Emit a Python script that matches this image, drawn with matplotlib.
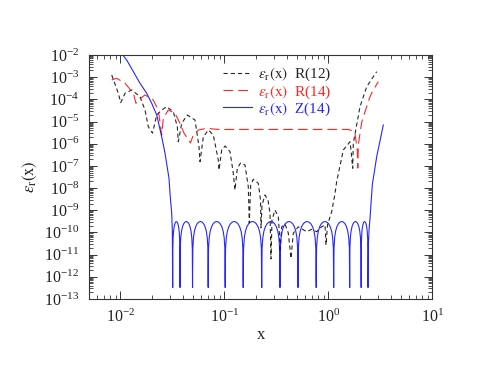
import numpy as np
import matplotlib
matplotlib.use('Agg')
import matplotlib.pyplot as plt
from matplotlib.ticker import LogLocator, NullFormatter, LogFormatterSciNotation
from matplotlib.lines import Line2D

plt.rcParams['font.family'] = ['Liberation Serif', 'DejaVu Serif']
plt.rcParams['mathtext.fontset'] = 'stix'
plt.rcParams['lines.scale_dashes'] = False

# ---------------- data ----------------
r12_x = [0.00827, 0.00957, 0.01009, 0.01110, 0.01287, 0.01547, 0.01728, 0.01859, 0.02040, 0.02239,
         0.02500, 0.02793, 0.03233, 0.03533, 0.03612, 0.03895, 0.04407, 0.05228, 0.05711, 0.05839,
         0.06283, 0.07018, 0.07837, 0.08756, 0.08892, 0.09441, 0.1016, 0.1134, 0.1221, 0.1267,
         0.1334, 0.1438, 0.1581, 0.1701, 0.1739, 0.1794, 0.1900, 0.2123, 0.2229, 0.2254,
         0.2304, 0.2462, 0.2631, 0.2750, 0.2812, 0.2874, 0.3072, 0.3305, 0.3394, 0.3432,
         0.3563, 0.3834, 0.4124, 0.4378, 0.4607, 0.5147, 0.5586, 0.6197, 0.6925, 0.7736,
         0.8640, 0.9296, 0.9504, 0.9824, 1.078, 1.160, 1.204, 1.394, 1.617, 1.653,
         1.717, 1.739, 2.018, 2.340, 2.920]
r12_y = [1.25e-3, 1.88e-4, 7.1e-5, 1.88e-4, 2.64e-4, 1.32e-4, 3.3e-5, 5.85e-6, 3.0e-6, 1.97e-5,
         3.3e-5, 4.67e-5, 2.78e-5, 5.85e-6, 1.23e-6, 8.3e-6, 1.97e-5, 1.17e-5, 7.3e-7, 1.55e-7,
         2.0e-6, 4.16e-6, 2.47e-6, 1.85e-7, 6.5e-8, 5.2e-7, 7.9e-7, 4.4e-7, 4.6e-8, 8.2e-9,
         7.8e-8, 1.39e-7, 1.1e-7, 1.15e-8, 2.7e-10, 1.38e-8, 2.5e-8, 1.64e-8, 2.9e-9, 1.6e-10,
         1.7e-9, 4.9e-9, 2.9e-9, 7.5e-10, 6.4e-12, 3.6e-10, 1.03e-9, 5.1e-10, 7.7e-11, 1.35e-11,
         1.8e-10, 2.4e-10, 9.4e-11, 6.8e-12, 9.2e-11, 1.8e-10, 1.43e-10, 1.08e-10, 1.39e-10, 1.08e-10,
         1.8e-10, 2.2e-10, 2.7e-11, 2.2e-10, 8.6e-10, 5.8e-9, 1.94e-8, 5.2e-7, 1.23e-6, 5.2e-7,
         7.8e-8, 1.04e-6, 4.67e-5, 3.7e-4, 1.77e-3]

r14_x = [0.00827, 0.00923, 0.01110, 0.01334, 0.01416, 0.01490, 0.01728, 0.02076, 0.02319, 0.02500,
         0.02591, 0.02894, 0.03357, 0.03750, 0.04097, 0.04732, 0.05032, 0.05623, 0.06771, 0.08756,
         0.15, 0.3, 0.6, 1.0, 1.3, 1.557, 1.617, 1.766, 1.806, 1.901,
         1.922, 1.943, 2.096, 2.340, 2.518, 2.708, 3.026]
r14_y = [7.46e-4, 8.9e-4, 5.3e-4, 1.88e-4, 6.64e-5, 9.36e-5, 1.573e-4, 9.36e-5, 3.3e-5, 2.47e-6,
         1.4e-5, 3.3e-5, 2.35e-5, 8.3e-6, 3.0e-6, 1.08e-6, 2.47e-6, 4.16e-6, 4.96e-6, 4.38e-6,
         4.4e-6, 4.4e-6, 4.4e-6, 4.4e-6, 4.4e-6, 4.38e-6, 4.16e-6, 3.48e-6, 2.95e-6, 5.2e-7,
         8.0e-8, 8.76e-7, 9.53e-6, 4.67e-5, 1.32e-4, 2.64e-4, 6.25e-4]

# Z(14): steep left branch, equi-ripple zeros, ripple peak, steep right branch
z14_left_x = [0.01055, 0.01152, 0.01334, 0.01547, 0.01794, 0.02004, 0.02239, 0.02500, 0.02691,
              0.02856, 0.02939, 0.03005, 0.03120, 0.03162]
z14_left_y = [1.0e-2, 5.95e-3, 1.77e-3, 5.3e-4, 1.88e-4, 6.64e-5, 1.97e-5, 2.07e-6, 3.7e-7,
              6.5e-8, 2.76e-8, 5.8e-9, 7.3e-10, 1.3e-10]
z14_zeros = [0.0319, 0.0375, 0.0495, 0.0700, 0.1020, 0.152, 0.229, 0.343, 0.511, 0.765,
             1.127, 1.606, 2.07, 2.41]
z14_peak = 3.1e-10
z14_floor = 3.3e-13
z14_right_x = [2.43, 2.47, 2.518, 2.649, 2.92, 3.14, 3.38]
z14_right_y = [3.0e-11, 1.5e-10, 4.3e-10, 1.4e-8, 2.6e-7, 1.33e-6, 7.0e-6]
# shape of one ripple arch (fraction across the arch in log x, level relative to peak)
arch_t = [0.0, 0.001, 0.02, 0.06, 0.12, 0.2, 0.3, 0.4, 0.5, 0.6, 0.7, 0.8, 0.88, 0.94, 0.98, 0.999, 1.0]
arch_rel = [0.0, 0.003, 0.063, 0.187, 0.368, 0.588, 0.809, 0.951, 1.0, 0.951, 0.809, 0.588,
            0.368, 0.187, 0.063, 0.003, 0.0]

legend_labels = [r'$\epsilon_{\rm r}({\rm x})$  R(12)',
                 r'$\epsilon_{\rm r}({\rm x})$  R(14)',
                 r'$\epsilon_{\rm r}({\rm x})$  Z(14)']

# ---------------- build Z(14) curve ----------------
zx = list(z14_left_x)
zy = list(z14_left_y)
for a, b in zip(z14_zeros[:-1], z14_zeros[1:]):
    la, lb = np.log10(a), np.log10(b)
    for t, r in zip(arch_t, arch_rel):
        zx.append(10 ** (la + t * (lb - la)))
        zy.append(max(z14_floor, z14_peak * r))
zx += z14_right_x
zy += z14_right_y

# ---------------- plot ----------------
fig = plt.figure(figsize=(4.79, 3.70), dpi=100)
ax = fig.add_axes([0.1858, 0.1919, 0.7167, 0.6595])

c_k, c_r, c_b = '#000000', '#ff0000', '#0000ff'
ax.plot(r12_x, r12_y, color=c_k, lw=0.8, dashes=(3.0, 2.2), alpha=0.85)
ax.plot(r14_x, r14_y, color=c_r, lw=0.8, dashes=(7.0, 3.6), alpha=0.85)
ax.plot(zx, zy, color=c_b, lw=0.8, alpha=0.85)

ax.set_xscale('log')
ax.set_yscale('log')
ax.set_xlim(0.005, 10)
ax.set_ylim(1e-13, 1e-2)

ax.xaxis.set_major_locator(LogLocator(base=10, numticks=50))
ax.xaxis.set_minor_locator(LogLocator(base=10, subs=np.arange(2, 10), numticks=50))
ax.yaxis.set_major_locator(LogLocator(base=10, numticks=50))
ax.yaxis.set_minor_locator(LogLocator(base=10, subs=np.arange(2, 10), numticks=50))
ax.xaxis.set_minor_formatter(NullFormatter())
ax.yaxis.set_minor_formatter(NullFormatter())
ax.yaxis.set_major_formatter(LogFormatterSciNotation(labelOnlyBase=True))

ax.tick_params(which='both', direction='in', top=True, right=True, colors='#333333',
               labelcolor='#222222', labelsize=11.5)
ax.tick_params(which='major', length=5.5, width=0.7, pad=7)
ax.tick_params(which='minor', length=2.8, width=0.6)
for s in ax.spines.values():
    s.set_linewidth(0.8)
    s.set_color('#333333')

ax.set_xlabel('x', fontsize=12, color='#222222', labelpad=1)
ax.set_ylabel(r'$\epsilon_{\rm r}({\rm x})$', fontsize=12, color='#222222', labelpad=4)

handles = [Line2D([], [], color=c_k, lw=0.8, dashes=(3.0, 2.2), alpha=0.85),
           Line2D([], [], color=c_r, lw=0.8, dashes=(7.0, 3.6), alpha=0.85),
           Line2D([], [], color=c_b, lw=0.8, alpha=0.85)]
leg = ax.legend(handles, legend_labels, loc='upper left', bbox_to_anchor=(0.39, 0.955),
                frameon=False, fontsize=11, handlelength=1.9, handletextpad=0.4,
                labelspacing=0.0, borderpad=0, borderaxespad=0)
for txt, col in zip(leg.get_texts(), [c_k, c_r, c_b]):
    txt.set_color(col)
    txt.set_alpha(0.85)

fig.savefig('out.png', dpi=100)
